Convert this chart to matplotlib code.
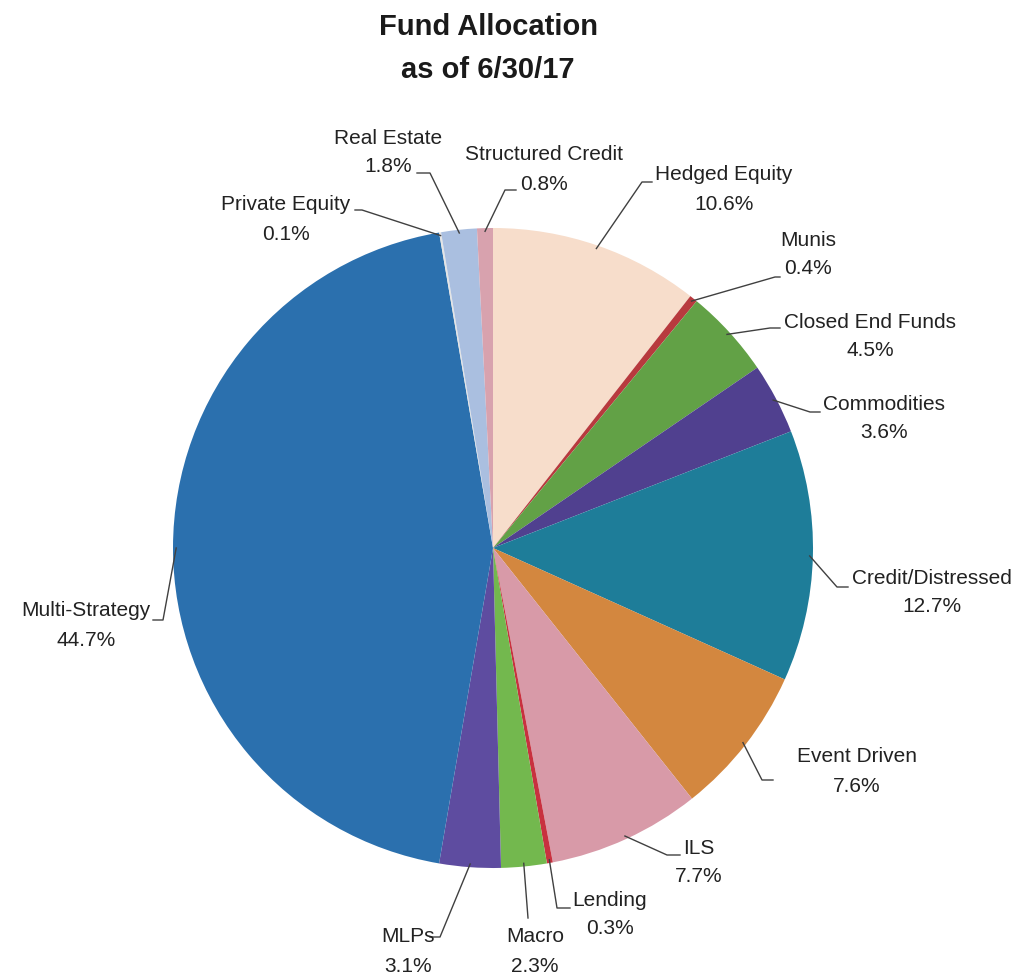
import numpy as np
import matplotlib
matplotlib.use("Agg")
import matplotlib.pyplot as plt

# slices, clockwise from 12 o'clock
names = ["Hedged Equity", "Munis", "Closed End Funds", "Commodities",
         "Credit/Distressed", "Event Driven", "ILS", "Lending", "Macro",
         "MLPs", "Multi-Strategy", "Private Equity", "Real Estate",
         "Structured Credit"]
shares = [10.6, 0.4, 4.5, 3.6, 12.7, 7.6, 7.7, 0.3, 2.3, 3.1, 44.7, 0.1, 1.8, 0.8]
colors = ["#F7DDCB", "#B83A3E", "#62A146", "#50408F", "#1E7D99", "#D3873F",
          "#D89AA8", "#C8313F", "#73B84E", "#5E4CA0", "#2B70AE", "#E4E4E4",
          "#AABFE0", "#D8A2AE"]

# label layout, in pixels of the 1031x975 canvas (centre x, first line y)
label_xy = [(724, 175), (808, 240), (870, 322), (884, 404), (932, 578),
            (857, 757), (699, 848), (610, 900), (535, 937), (408, 937),
            (86, 611), (286, 205), (388, 138), (544, 155)]
elbow_xy = [(642, 182), (775, 277), (770, 328), (810, 412), (837, 587),
            (762, 780), (667, 855), (557, 908), (528, 918), (440, 937),
            (163, 620), (362, 210), (430, 173), (505, 190)]
end_xy = [(652, 182), (780, 277), (780, 328), (820, 412), (848, 587),
          (773, 780), (680, 855), (570, 908), (528, 918), (430, 937),
          (153, 620), (355, 210), (417, 173), (516, 190)]

W, H = 1031, 975
CX, CY, R = 493, 548, 320
LINE_GAP = 29

FONT = ["Liberation Sans", "DejaVu Sans"]


def px(x, y):
    return (x - CX) / R, (CY - y) / R


fig = plt.figure(figsize=(W / 100, H / 100), dpi=100)
ax = fig.add_axes([0, 0, 1, 1])
wedges, _ = ax.pie(shares, colors=colors, startangle=90, counterclock=False,
                   radius=1, wedgeprops=dict(linewidth=0))
ax.set_xlim(-CX / R, (W - CX) / R)
ax.set_ylim((CY - H) / R, CY / R)
ax.set_aspect("equal")
ax.axis("off")

for w, name, val, lxy, exy, nxy in zip(wedges, names, shares, label_xy, elbow_xy, end_xy):
    ang = np.deg2rad((w.theta1 + w.theta2) / 2)
    sx, sy = 0.99 * np.cos(ang), 0.99 * np.sin(ang)
    ex, ey = px(*exy)
    nx, ny = px(*nxy)
    ax.plot([sx, ex, nx], [sy, ey, ny], color="#404040", lw=1)
    lx, ly = lxy
    ax.text(*px(lx, ly), name, ha="center", va="center",
            fontsize=15, family=FONT, color="#222222")
    ax.text(*px(lx, ly + LINE_GAP), f"{val:.1f}%", ha="center", va="center",
            fontsize=15, family=FONT, color="#222222")

ax.text(*px(488, 27), "Fund Allocation", ha="center", va="center",
        fontsize=21, fontweight="bold", family=FONT, color="#1a1a1a")
ax.text(*px(488, 70), "as of 6/30/17", ha="center", va="center",
        fontsize=21, fontweight="bold", family=FONT, color="#1a1a1a")

fig.savefig("out.png", dpi=100, facecolor="white")
